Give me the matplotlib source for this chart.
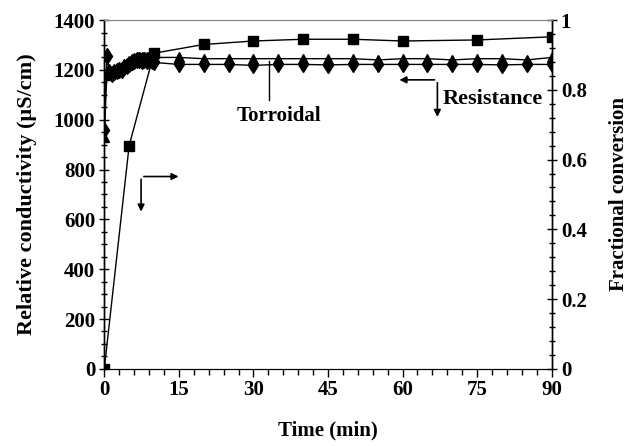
import matplotlib
matplotlib.use('Agg')
import matplotlib.pyplot as plt
from matplotlib.ticker import MultipleLocator

plt.rcParams['font.family'] = ['Liberation Serif', 'DejaVu Serif']
plt.rcParams['font.weight'] = 'bold'

# conductivity readings (left axis)
t_cond = [0, 0.5, 1, 1.5, 2, 2.5, 3, 3.5, 4, 4.5, 5, 5.5, 6, 6.5, 7, 7.5, 8, 8.5, 9, 9.5, 10,
          15, 20, 25, 30, 35, 40, 45, 50, 55, 60, 65, 70, 75, 80, 85, 90]
torroidal = [930, 1180, 1185, 1190, 1190, 1195, 1200, 1210, 1215, 1220, 1230, 1240, 1245, 1245,
             1250, 1250, 1250, 1250, 1250, 1250, 1250,
             1250, 1245, 1245, 1245, 1245, 1245, 1245, 1245, 1240, 1245, 1245, 1240, 1245, 1245, 1240, 1250]
resistance = [960, 1255, 1190, 1185, 1190, 1195, 1200, 1200, 1210, 1215, 1225, 1230, 1235, 1240,
              1240, 1235, 1240, 1235, 1240, 1235, 1230,
              1222, 1222, 1222, 1218, 1222, 1222, 1220, 1222, 1222, 1222, 1222, 1222, 1222, 1220, 1222, 1222]

# fractional conversion (right axis)
t_conv = [0, 5, 10, 20, 30, 40, 50, 60, 75, 90]
conversion = [0, 0.64, 0.905, 0.93, 0.94, 0.945, 0.945, 0.94, 0.943, 0.952]

fs = 15

fig = plt.figure(figsize=(6.32, 4.46), dpi=100)
ax = fig.add_axes([0.165, 0.173, 0.708, 0.782])
ax2 = ax.twinx()

ax.plot(t_cond, resistance, color='black', lw=1, marker='d', ms=8.5, mec='black', mfc='black')
ax.plot(t_cond, torroidal, color='black', lw=1, marker='^', ms=6.5, mec='black', mfc='black')
ax2.plot(t_conv, conversion, color='black', lw=1, marker='s', ms=6.5, mec='black', mfc='black')

ax.set_xlim(0, 90)
ax.set_ylim(0, 1400)
ax2.set_ylim(0, 1)

ax.xaxis.set_major_locator(MultipleLocator(15))
ax.xaxis.set_minor_locator(MultipleLocator(3))
ax.yaxis.set_major_locator(MultipleLocator(200))
ax.yaxis.set_minor_locator(MultipleLocator(50))
ax2.set_yticks([0, 0.2, 0.4, 0.6, 0.8, 1.0])
ax2.set_yticklabels(['0', '0.2', '0.4', '0.6', '0.8', '1'])
ax2.yaxis.set_minor_locator(MultipleLocator(0.04))

ax.tick_params(axis='x', which='major', direction='out', length=6, width=1, labelsize=fs, pad=2)
ax.tick_params(axis='x', which='minor', direction='out', length=4, width=1)
ax.tick_params(axis='y', which='major', direction='inout', length=7, width=1, labelsize=fs, pad=3)
ax.tick_params(axis='y', which='minor', direction='inout', length=5, width=1)
ax2.tick_params(axis='y', which='major', direction='inout', length=7, width=1, labelsize=fs, pad=3)
ax2.tick_params(axis='y', which='minor', direction='inout', length=5, width=1)

for a in (ax, ax2):
    a.spines['top'].set_color('#888888')
    a.spines['left'].set_linewidth(1)
    a.spines['right'].set_linewidth(1)

ax.set_xlabel('Time (min)', fontsize=fs, fontweight='bold', labelpad=15)
ax.set_ylabel('Relative conductivity (\u00b5S/cm)', fontsize=16, fontweight='bold', labelpad=12)
ax2.set_ylabel('Fractional conversion', fontsize=fs, fontweight='bold', labelpad=16)

# annotations
ax.text(35.2, 1015, 'Torroidal', fontsize=fs, fontweight='bold', ha='center', va='center')
ax.plot([33.1, 33.1], [1235, 1080], color='black', lw=1)
ax.text(68.0, 1085, 'Resistance', fontsize=16, fontweight='bold', ha='left', va='center')
ax.annotate('', xy=(58.8, 1160), xytext=(67.0, 1160),
            arrowprops=dict(arrowstyle='-|>', color='black', lw=1.2, mutation_scale=10))
ax.annotate('', xy=(67.0, 1000), xytext=(67.0, 1160),
            arrowprops=dict(arrowstyle='-|>', color='black', lw=1.2, mutation_scale=10))
ax.annotate('', xy=(15.5, 772), xytext=(7.4, 772),
            arrowprops=dict(arrowstyle='-|>', color='black', lw=1.2, mutation_scale=10))
ax.annotate('', xy=(7.4, 620), xytext=(7.4, 772),
            arrowprops=dict(arrowstyle='-|>', color='black', lw=1.2, mutation_scale=10))

fig.savefig('out.png', dpi=100)
